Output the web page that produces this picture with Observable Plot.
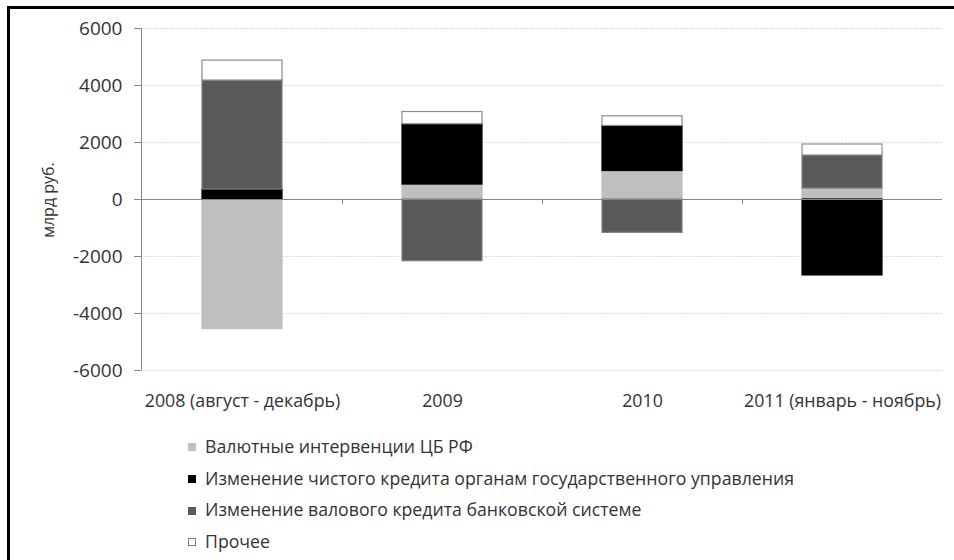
<!DOCTYPE html>
<html>
<head>
<meta charset="utf-8">
<script src="https://cdn.jsdelivr.net/npm/d3@7"></script>
<script src="https://cdn.jsdelivr.net/npm/@observablehq/plot@0.6"></script>
<style>
  html, body { margin: 0; padding: 0; background: #fff; overflow: hidden; width: 954px; height: 560px; }
  #frame { position: absolute; left: 7px; top: 6px; width: 1000px; height: 600px; border-left: 3px solid #000; border-top: 3px solid #000; }
  #chart { position: absolute; left: 0; top: 0; }
  #ylabel { position: absolute; left: 48px; top: 200px; transform: translate(-50%, -50%) rotate(-90deg); font: 16px "Open Sans", sans-serif; color: #333; white-space: nowrap; }
  #legend { position: absolute; left: 188px; top: 435px; font: 17.7px "Open Sans", sans-serif; color: #333; }
  .item { position: absolute; left: 0; white-space: nowrap; height: 22px; line-height: 22px; }
  .sw { display: inline-block; width: 8px; height: 8px; box-sizing: border-box; margin-right: 9px; vertical-align: middle; position: relative; top: -1px; }
</style>
</head>
<body>
<div id="frame"></div>
<div id="chart"></div>
<div id="ylabel">млрд руб.</div>
<div id="legend"></div>
<script>
const categories = ["2008 (август - декабрь)", "2009", "2010", "2011 (январь - ноябрь)"];
const seriesNames = [
  "Валютные интервенции  ЦБ РФ",
  "Изменение чистого кредита органам государственного управления",
  "Изменение валового кредита банковской системе",
  "Прочее"
];
const interventions = [-4550, 525, 1000, 385];
const govCredit = [350, 2115, 1580, -2665];
const bankCredit = [3825, -2165, -1170, 1160];
const other = [700, 430, 340, 385];
const yTicks = [-6000, -4000, -2000, 0, 2000, 4000, 6000];
const yLabel = "млрд руб.";

const seriesFill = ["#bfbfbf", "#000000", "#595959", "#ffffff"];
const seriesStroke = ["#bfbfbf", "#000000", "#7f7f7f", "#8c8c8c"];

const seriesValues = [interventions, govCredit, bankCredit, other];
const data = [];
seriesNames.forEach((s, si) => {
  categories.forEach((c, ci) => {
    data.push({cat: c, series: s, value: seriesValues[si][ci], fill: seriesFill[si], stroke: seriesStroke[si]});
  });
});

function axisDecor(index, scales, values, dimensions) {
  const x = scales.x, y = scales.y;
  const bw = typeof x.bandwidth === "function" ? x.bandwidth() : x.bandwidth;
  const g = d3.create("svg:g");
  const left = dimensions.marginLeft;
  g.append("line").attr("x1", left + 0.5).attr("x2", left + 0.5)
    .attr("y1", y(yTicks[yTicks.length - 1])).attr("y2", y(yTicks[0]))
    .attr("stroke", "#868686");
  for (let i = 0; i < categories.length - 1; i++) {
    const bx = Math.round((x(categories[i]) + bw + x(categories[i + 1])) / 2) + 0.5;
    g.append("line").attr("x1", bx).attr("x2", bx)
      .attr("y1", y(0)).attr("y2", y(0) + 5)
      .attr("stroke", "#868686");
  }
  return g.node();
}

const plot = Plot.plot({
  width: 954,
  height: 420,
  marginLeft: 141,
  marginRight: 12,
  marginTop: 28,
  marginBottom: 50,
  style: {fontFamily: "'Open Sans', sans-serif", fontSize: "17px", color: "#333", background: "transparent"},
  x: {domain: categories, paddingInner: 0.6, paddingOuter: 0.3, label: null, tickSize: 0, tickPadding: 23.5},
  y: {domain: [yTicks[0], yTicks[yTicks.length - 1]], ticks: yTicks, tickSize: 7, tickPadding: 12, label: null, tickFormat: d => String(d)},
  color: {type: "identity"},
  marks: [
    Plot.ruleY(yTicks.filter(v => v !== 0), {stroke: "#c8c8c8", strokeDasharray: "1,1.5"}),
    Plot.barY(data, {x: "cat", y: "value", z: "series", fill: "fill", stroke: "stroke", strokeWidth: 1.2}),
    Plot.ruleY([0], {stroke: "#868686"}),
    axisDecor
  ]
});
document.getElementById("chart").appendChild(plot);

d3.select(plot).selectAll('[aria-label^="y-axis"] line, [aria-label^="y-axis"] path').attr("stroke", "#868686");
d3.select(plot).selectAll('[aria-label^="x-axis"] text').attr("fill", "#333").style("font-size", "17.8px");
d3.select(plot).selectAll('[aria-label^="y-axis"] text').attr("fill", "#333").style("font-size", "19px");

const legend = document.getElementById("legend");
const rowStep = 31.7;
seriesNames.forEach((s, i) => {
  const item = document.createElement("div");
  item.className = "item";
  item.style.top = (i * rowStep) + "px";
  const sw = document.createElement("span");
  sw.className = "sw";
  sw.style.background = seriesFill[i];
  sw.style.border = "1px solid " + (i === 3 ? "#7f7f7f" : seriesFill[i]);
  item.appendChild(sw);
  item.appendChild(document.createTextNode(s));
  legend.appendChild(item);
});
</script>
</body>
</html>
